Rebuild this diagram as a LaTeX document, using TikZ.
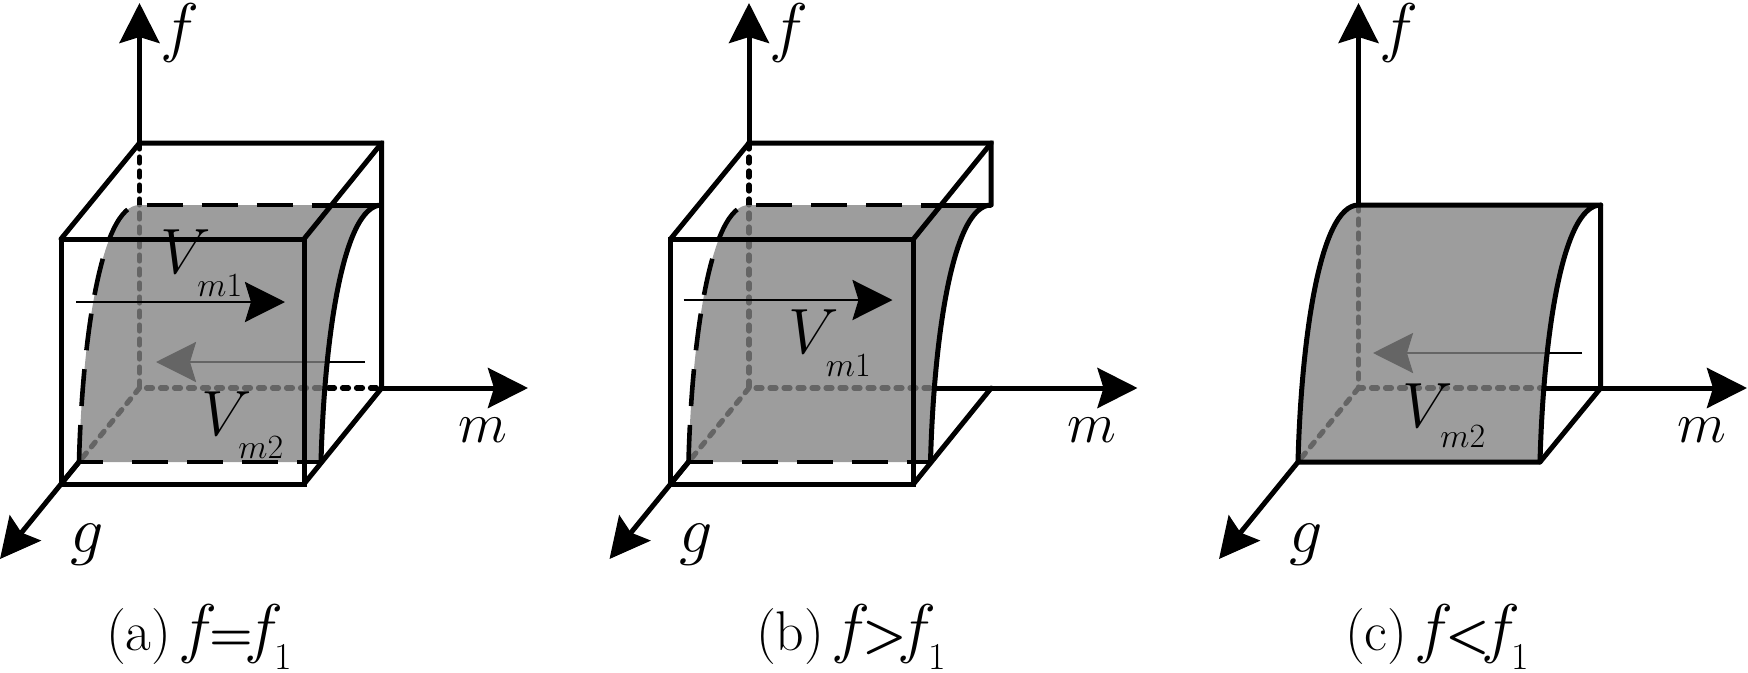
\RequirePackage{fix-cm}
\documentclass[tikz,border=0pt]{standalone}
\usetikzlibrary{arrows.meta}
\definecolor{surf}{gray}{0.51}
\tikzset{
  bigtip/.tip={Stealth[length=40pt,width=40pt,inset=6pt]},
  axisline/.style={line width=5pt,-{bigtip}},
  edge/.style={line width=5pt,line join=miter,line cap=round},
  hidden/.style={line width=5.2pt,dash pattern=on 6pt off 8pt,line cap=round},
  flow/.style={line width=2.8pt,-{bigtip}},
  surface/.style={fill=surf,fill opacity=0.78,draw=none},
  rim/.style={line width=5pt},
  rimL/.style={line width=4.6pt,dash pattern=on 37pt off 19pt},
  rimT/.style={line width=4.6pt,dash pattern=on 36pt off 19pt},
  rimB/.style={line width=4.6pt,dash pattern=on 24pt off 29pt on 36pt off 19pt on 36pt off 19pt on 36pt off 19pt on 24pt},
  lab/.style={anchor=base west,inner sep=0pt,outer sep=0pt,text=black},
}
\newcommand{\axF}{\fontsize{66}{66}\selectfont}
\newcommand{\axM}{\fontsize{57}{57}\selectfont}
\newcommand{\Vm}[3]{\fontsize{64}{64}\selectfont$V$\kern#2\raisebox{#3}{\fontsize{34}{34}\selectfont$#1$}}
\newcommand{\Capt}[4]{\fontsize{56}{56}\selectfont #1\kern7pt\fontsize{66}{66}\selectfont$f$\kern#3{\fontsize{#4}{#4}\selectfont\textbf{#2}}\kern-9pt\fontsize{66}{66}\selectfont$f$\kern-8pt\raisebox{-19pt}{\fontsize{38}{38}\selectfont 1}}
\newcommand{\Pts}{%
\coordinate (O) at (139.5,388);
\coordinate (ftip) at (139.5,3);
\coordinate (mtip) at (528,388);
\coordinate (gtip) at (0,559);
\coordinate (BT) at (139.5,143);
\coordinate (RT) at (381.7,143);
\coordinate (RB) at (381.7,388);
\coordinate (FTL) at (61,239);
\coordinate (FTR) at (304,239);
\coordinate (FBL) at (61,484);
\coordinate (FBR) at (304,484);
\coordinate (SBL) at (79,462);
\coordinate (STL) at (139.5,205);
\coordinate (STR) at (381.7,205);
\coordinate (SBR) at (321,462);
\coordinate (Rm) at (322,388);
}
\newcommand{\SurfPath}{(SBL) .. controls (82,345) and (100,205) .. (STL) -- (STR) .. controls (342,205) and (324,345) .. (SBR) -- cycle}
\newcommand{\LeftC}{(SBL) .. controls (82,345) and (100,205) .. (STL)}
\newcommand{\RightC}{(STR) .. controls (342,205) and (324,345) .. (SBR)}
\begin{document}
\begin{tikzpicture}[x=1pt,y=-1pt]
\useasboundingbox (0,0) rectangle (1748,672);

% ---------- panel a
\begin{scope}
\Pts
\draw[axisline] (BT) -- (ftip);
\draw[axisline] (RB) -- (mtip);
\draw[axisline] (SBL) -- (gtip);
\draw[hidden] (BT) -- (O) -- (RB);
\draw[hidden] (O) -- (SBL);
\draw[flow] (365,362) -- (156,362);
\fill[surface] \SurfPath;
\draw[rimL] \LeftC;
\draw[rimT] (146.7,205) -- (311,205);
\draw[rim] (311.7,205) -- (STR);
\draw[rimB] (SBL) -- (SBR);
\draw[rim] \RightC;
\draw[edge] (FTL) -- (BT) -- (RT) -- (RB) -- (FBR);
\draw[edge] (RT) -- (FTR);
\draw[edge] (FTL) rectangle (FBR);
\draw[edge] (FBL) -- (SBL);
\draw[flow] (76,302) -- (285,302);
\node[lab] (fa) at (160,49) {\axF$f$};
\node[lab] (ma) at (458,442) {\axM$m$};
\node[lab] (ga) at (70,552) {\axF$g$};
\node[lab] (v1a) at (160,273) {\Vm{m1}{-13pt}{-23pt}};
\node[lab] (v2a) at (201,435) {\Vm{m2}{-13pt}{-23pt}};
\node[lab] (capa) at (106,650) {\Capt{(a)}{=}{-8pt}{50}};
\end{scope}

% ---------- panel b
\begin{scope}[xshift=609.5pt]
\Pts
\draw[axisline] (BT) -- (ftip);
\draw[axisline] (Rm) -- (mtip);
\draw[axisline] (SBL) -- (gtip);
\draw[hidden] (BT) -- (O) -- (Rm);
\draw[hidden] (O) -- (SBL);
\fill[surface] \SurfPath;
\draw[rimL] \LeftC;
\draw[rimT] (146.7,205) -- (311,205);
\draw[rim] (311.7,205) -- (STR);
\draw[rimB] (SBL) -- (SBR);
\draw[rim] \RightC;
\draw[edge] (FTL) -- (BT) -- (RT) -- (STR);
\draw[edge] (RT) -- (FTR);
\draw[edge] (RB) -- (FBR);
\draw[edge] (FTL) rectangle (FBR);
\draw[edge] (FBL) -- (SBL);
\draw[flow] (74,300) -- (283,300);
\node[lab] (fb) at (160,49) {\axF$f$};
\node[lab] (mb) at (458,442) {\axM$m$};
\node[lab] (gb) at (70,552) {\axF$g$};
\node[lab] (v1b) at (179,353) {\Vm{m1}{-13pt}{-23pt}};
\node[lab] (capb) at (146.5,650) {\Capt{(b)}{>}{-8pt}{50}};
\end{scope}

% ---------- panel c
\begin{scope}[xshift=1219pt]
\Pts
\draw[axisline] (STL) -- (ftip);
\draw[axisline] (Rm) -- (mtip);
\draw[axisline] (SBL) -- (gtip);
\draw[hidden] (STL) -- (O) -- (Rm);
\draw[hidden] (O) -- (SBL);
\draw[flow] (363,353) -- (154,353);
\fill[surface] \SurfPath;
\draw[edge] (STR) -- (RB) -- (SBR);
\draw[rim,line join=round] \SurfPath;
\node[lab] (fc) at (160,49) {\axF$f$};
\node[lab] (mc) at (458,442) {\axM$m$};
\node[lab] (gc) at (70,552) {\axF$g$};
\node[lab] (v2c) at (183,427) {\Vm{m2}{-12pt}{-20pt}};
\node[lab] (capc) at (126,650) {\Capt{(c)}{<}{-8pt}{50}};
\end{scope}
\end{tikzpicture}
\end{document}
